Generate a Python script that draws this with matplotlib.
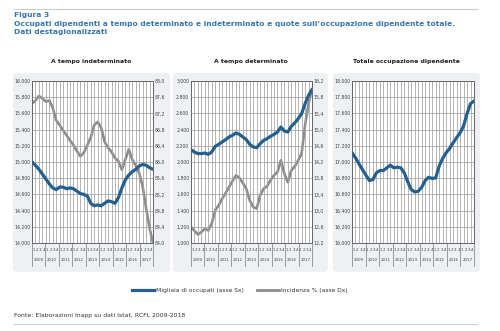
import matplotlib
matplotlib.use("Agg")
import matplotlib.pyplot as plt
from matplotlib.patches import FancyBboxPatch
from matplotlib.lines import Line2D
from matplotlib.ticker import FuncFormatter
import numpy as np

plt.rcParams['font.family'] = ['DejaVu Sans']

years = ["2009", "2010", "2011", "2012", "2013", "2014", "2015", "2016", "2017"]
quarters = ["1", "2", "3", "4"]

panel_titles = ["A tempo indeterminato", "A tempo determinato", "Totale occupazione dipendente"]

indet_occ = [15000, 14960, 14910, 14850, 14790, 14730, 14680, 14660, 14690, 14690,
             14670, 14680, 14670, 14640, 14610, 14600, 14580, 14490, 14460, 14470,
             14460, 14490, 14520, 14510, 14490, 14560, 14680, 14780, 14840, 14880,
             14910, 14950, 14970, 14960, 14930, 14910]
indet_pct = [87.44, 87.52, 87.63, 87.57, 87.49, 87.52, 87.34, 87.03, 86.91, 86.78,
             86.66, 86.53, 86.42, 86.27, 86.14, 86.23, 86.42, 86.61, 86.91, 86.99,
             86.85, 86.50, 86.35, 86.25, 86.10, 86.02, 85.81, 86.06, 86.31, 86.06,
             85.92, 85.73, 85.40, 84.87, 84.37, 84.00]

det_occ = [2152, 2123, 2103, 2103, 2111, 2095, 2123, 2193, 2218, 2247,
           2276, 2309, 2329, 2358, 2342, 2309, 2276, 2218, 2185, 2177,
           2226, 2267, 2288, 2317, 2342, 2370, 2432, 2383, 2370, 2440,
           2481, 2535, 2597, 2720, 2823, 2893]
det_pct = [12.60, 12.50, 12.41, 12.47, 12.55, 12.51, 12.68, 13.01, 13.13, 13.29,
           13.43, 13.58, 13.73, 13.87, 13.81, 13.68, 13.54, 13.25, 13.09, 13.05,
           13.38, 13.54, 13.60, 13.75, 13.87, 13.95, 14.24, 13.91, 13.70, 13.99,
           14.09, 14.24, 14.41, 15.11, 15.64, 16.01]

tot_occ = [17113, 17052, 16977, 16907, 16837, 16771, 16784, 16866, 16895, 16895,
           16928, 16961, 16928, 16936, 16928, 16866, 16755, 16660, 16631, 16639,
           16689, 16771, 16812, 16796, 16804, 16948, 17043, 17113, 17167, 17237,
           17299, 17361, 17443, 17596, 17720, 17753]

left_ranges = [(14000, 16000, 200), (1000, 3000, 200), (16000, 18000, 200)]
right_ranges = [(84.0, 88.0, 0.4), (12.2, 16.2, 0.4), None]

legend_labels = ["Migliaia di occupati (asse Sx)", "Incidenza % (asse Dx)"]
title_lines = ["Figura 3",
               "Occupati dipendenti a tempo determinato e indeterminato e quote sull\u2019occupazione dipendente totale.",
               "Dati destagionalizzati"]
source = "Fonte: Elaborazioni Inapp su dati Istat, RCFL 2009-2018"

BLUE = "#23608f"
GRAY = "#8c8c8c"
TITLE_BLUE = "#3476b3"
PANEL_BG = "#eef0f4"

W, H = 500, 331
fig = plt.figure(figsize=(W / 100, H / 100), dpi=100)

def fx(px):
    return px / W

def fy(py):
    return 1 - py / H

fig.add_artist(Line2D([fx(14), fx(477)], [fy(8.5), fy(8.5)], color="#c8ccd0", lw=0.8))
fig.add_artist(Line2D([fx(14), fx(477)], [fy(324), fy(324)], color="#c8d8c8", lw=0.8))

for ty, line in zip([15.5, 24, 32], title_lines):
    fig.text(fx(14), fy(ty), line, color=TITLE_BLUE, fontsize=5.4, weight="bold", va="center")

panel_boxes = [(13, 170), (173, 328), (333, 480)]
for x0, x1 in panel_boxes:
    fig.add_artist(FancyBboxPatch((fx(x0), fy(272)), fx(x1 - x0), (272 - 73) / H,
                                  boxstyle="round,pad=0,rounding_size=0.01",
                                  transform=fig.transFigure, facecolor=PANEL_BG,
                                  edgecolor="none", zorder=0))

axes_px = [(32, 153), (191, 312), (352, 474)]
ax_top, ax_bot = 81, 243

left_data = [indet_occ, det_occ, tot_occ]
right_data = [indet_pct, det_pct, None]

n = len(indet_occ)
xs = np.arange(n)

def thousands(v, p):
    return f"{v:,.0f}".replace(",", ".")

def onedec(v, p):
    return f"{v:.1f}".replace(".", ",")

for k in range(3):
    x0, x1 = axes_px[k]
    ax = fig.add_axes([fx(x0), fy(ax_bot), fx(x1 - x0), (ax_bot - ax_top) / H])
    ax.set_facecolor("white")
    lo, hi, st = left_ranges[k]
    ax.set_ylim(lo, hi)
    ax.set_yticks(np.arange(lo, hi + st / 2, st))
    ax.yaxis.set_major_formatter(FuncFormatter(thousands))
    ax.set_xlim(0, n - 1)
    ax.set_xticks(xs)
    ax.set_xticklabels([])
    ax.tick_params(axis="x", length=0)
    ax.tick_params(axis="y", length=0, labelsize=3.3, pad=1.2, labelcolor="#444444")
    ax.grid(True, color="#a0a0a0", lw=0.55)
    ax.set_axisbelow(True)
    for s in ax.spines.values():
        s.set_color("#666666")
        s.set_linewidth(0.7)

    fig.text(fx((panel_boxes[k][0] + panel_boxes[k][1]) / 2), fy(61), panel_titles[k],
             fontsize=4.4, weight="bold", ha="center", va="center", color="#222222")

    tr = ax.transAxes
    for yi, yr in enumerate(years):
        for qi, q in enumerate(quarters):
            ax.text((4 * yi + qi + 0.5) / 36, -0.042, q, transform=tr, fontsize=2.9,
                    ha="center", va="center", color="#444444")
        ax.text((yi + 0.5) / 9, -0.105, yr, transform=tr, fontsize=2.9,
                ha="center", va="center", color="#444444")
    for b in range(10):
        ax.add_line(Line2D([b / 9, b / 9], [0, -0.145], transform=tr, color="#777777",
                           lw=0.5, clip_on=False))

    if right_data[k] is not None:
        ax2 = ax.twinx()
        rlo, rhi, rst = right_ranges[k]
        ax2.set_ylim(rlo, rhi)
        ax2.set_yticks(np.arange(rlo, rhi + rst / 2, rst))
        ax2.yaxis.set_major_formatter(FuncFormatter(onedec))
        ax2.tick_params(axis="y", length=0, labelsize=3.3, pad=1.2, labelcolor="#444444")
        for s in ax2.spines.values():
            s.set_visible(False)
        ax2.plot(xs, right_data[k], color=GRAY, lw=1.9, solid_capstyle="round", zorder=3)
        ax2.set_xlim(0, n - 1)
        ax.set_zorder(ax2.get_zorder() + 1)
        ax.patch.set_visible(False)
        ax2.set_facecolor("white")
        ax2.patch.set_visible(True)
    ax.plot(xs, left_data[k], color=BLUE, lw=2.3, solid_capstyle="round", zorder=4)

handles = [Line2D([], [], color=BLUE, lw=2.3), Line2D([], [], color=GRAY, lw=2.0)]
fig.legend(handles, legend_labels, loc="center", bbox_to_anchor=(fx(240), fy(290)),
           ncol=2, frameon=False, fontsize=4.3, handlelength=3.6, handletextpad=0.4,
           columnspacing=2.2, labelcolor="#333333")

fig.text(fx(14), fy(315), source, fontsize=4.4, color="#333333", va="center")

fig.savefig("out.png", dpi=100)
